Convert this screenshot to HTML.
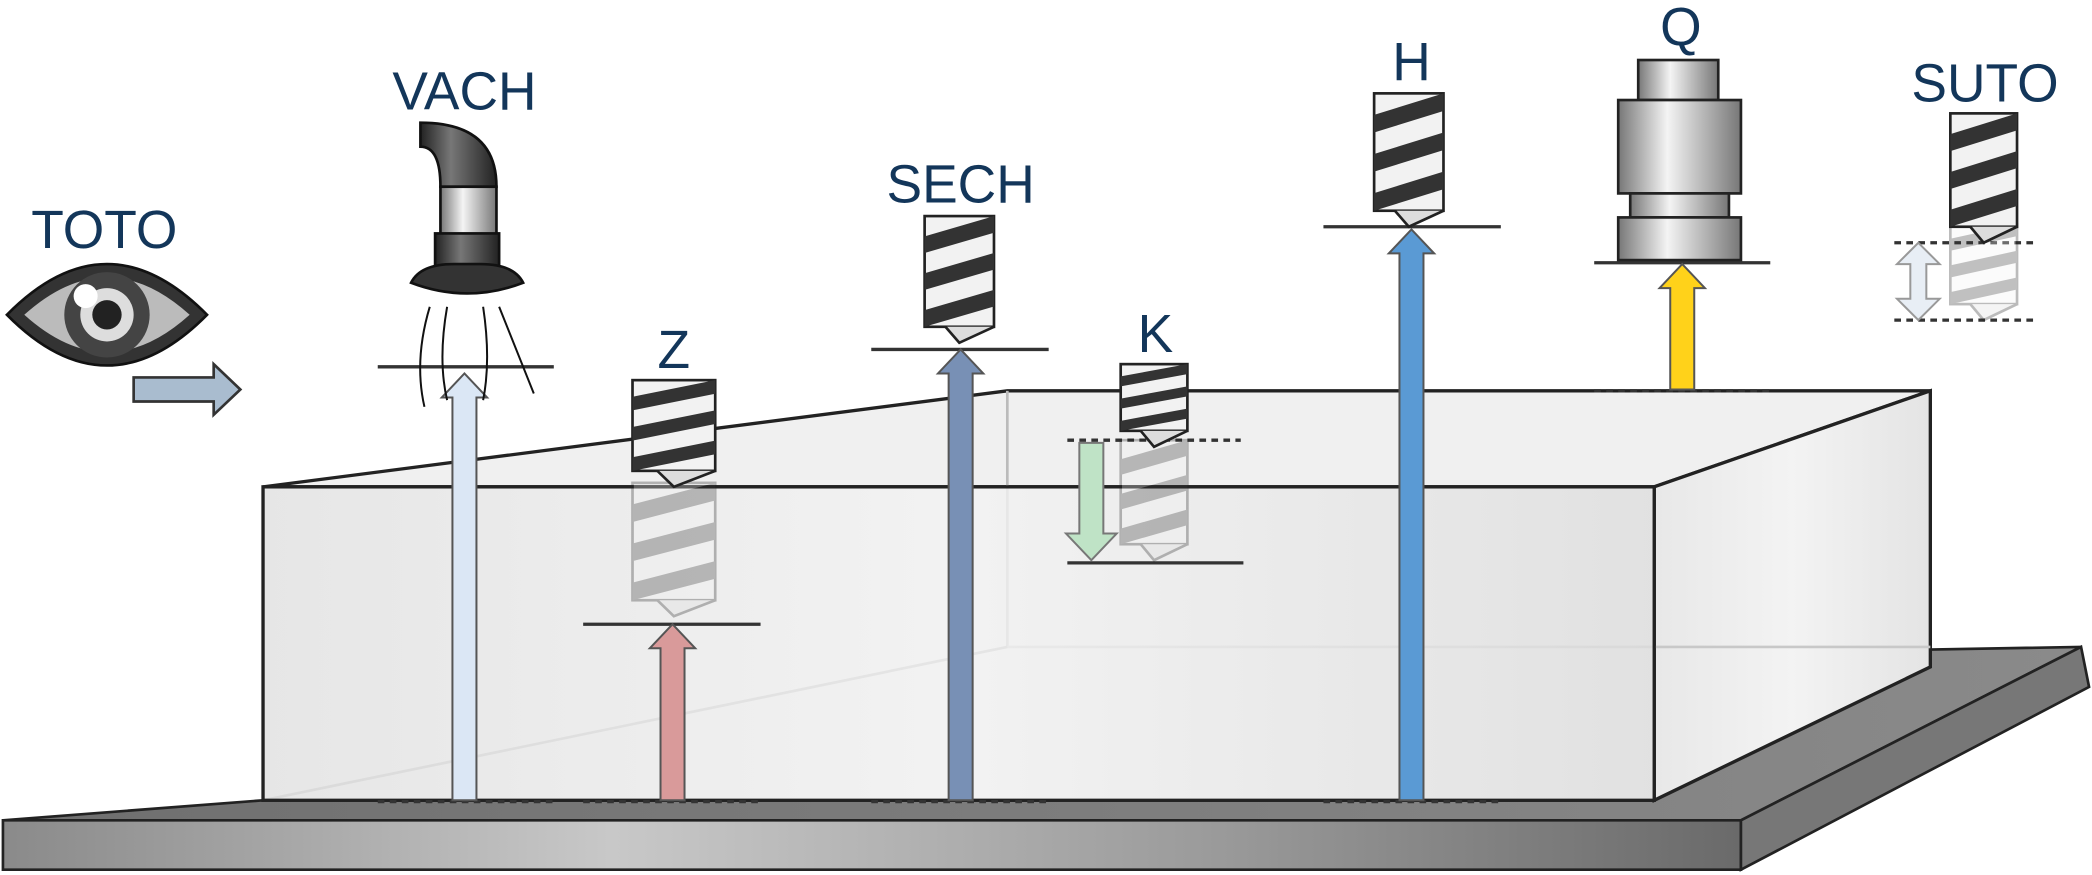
<!DOCTYPE html>
<html><head><meta charset="utf-8"><style>
html,body{margin:0;padding:0;background:#fff;}
svg{display:block;}
text{font-family:"Liberation Sans",sans-serif;font-size:40px;fill:#13365a;text-anchor:middle;}
</style></head><body>
<svg id="s" width="2092" height="875" viewBox="0 0 1568 656" xmlns="http://www.w3.org/2000/svg">
<defs>
<linearGradient id="plate" x1="0" x2="1" y1="0" y2="0"><stop offset="0" stop-color="#8a8a8a"/><stop offset="0.35" stop-color="#c8c8c8"/><stop offset="0.7" stop-color="#9a9a9a"/><stop offset="1" stop-color="#6a6a6a"/></linearGradient>
<linearGradient id="plateTop" x1="0" x2="1"><stop offset="0" stop-color="#6f6f6f"/><stop offset="1" stop-color="#8a8a8a"/></linearGradient>
<linearGradient id="boxF" x1="0" x2="1"><stop offset="0" stop-color="#e2e2e2"/><stop offset="0.5" stop-color="#f0f0f0"/><stop offset="1" stop-color="#dcdcdc"/></linearGradient>
<linearGradient id="boxR" x1="0" x2="1"><stop offset="0" stop-color="#e8e8e8"/><stop offset="0.5" stop-color="#f3f3f3"/><stop offset="1" stop-color="#e4e4e4"/></linearGradient>
<linearGradient id="metal" x1="0" x2="1"><stop offset="0" stop-color="#777"/><stop offset="0.4" stop-color="#f4f4f4"/><stop offset="1" stop-color="#777"/></linearGradient>
<linearGradient id="dark" x1="0" x2="1"><stop offset="0" stop-color="#222"/><stop offset="0.4" stop-color="#777"/><stop offset="1" stop-color="#222"/></linearGradient>
</defs>
<!-- plate -->
<g>
<polygon points="2,615 1305,615 1560,485 1447,487 1447,500 1240,600 197,600" fill="url(#plateTop)" stroke="#222" stroke-width="2"/>
<polygon points="2,615 1305,615 1305,652 2,652" fill="url(#plate)" stroke="#222" stroke-width="2"/>
<polygon points="1305,615 1560,485 1566,515 1305,652" fill="#777" stroke="#222" stroke-width="2"/>
</g>
<!-- box -->
<g>
<polygon points="197,365 1240,365 1447,293 755,293" fill="#f0f0f0" stroke="#222" stroke-width="2.5"/>
<polygon points="1240,365 1447,293 1447,500 1240,600" fill="url(#boxR)" stroke="#222" stroke-width="2.5"/>
<line x1="755" y1="293" x2="755" y2="485" stroke="#bbb" stroke-width="2"/>
<line x1="755" y1="485" x2="1447" y2="485" stroke="#c8c8c8" stroke-width="2"/>
<line x1="755" y1="485" x2="197" y2="600" stroke="#aaa" stroke-width="2"/>
<rect x="197" y="365" width="1043" height="235" fill="url(#boxF)" fill-opacity="0.85" stroke="#222" stroke-width="2.5"/>
</g>
<g id="marks"></g>
<!-- eye -->
<g>
<path d="M5,236 Q80,160 155,236 Q80,312 5,236Z" fill="#333" stroke="#111" stroke-width="2"/>
<path d="M18,236 Q80,180 142,236 Q80,292 18,236Z" fill="#bbb"/>
<circle cx="80" cy="236" r="32" fill="#444"/><circle cx="80" cy="236" r="20" fill="#ddd"/><circle cx="80" cy="236" r="11" fill="#222"/>
<circle cx="64" cy="222" r="9" fill="#fff"/>
<path d="M100,283 L160,283 L160,273 L180,292 L160,311 L160,301 L100,301Z" fill="#a9bccf" stroke="#333" stroke-width="2"/>
</g>
<!-- vacuum -->
<g>
<path d="M315,92 Q372,92 372,140 L330,140 Q330,110 315,110Z" fill="url(#dark)" stroke="#111" stroke-width="2"/>
<rect x="330" y="140" width="42" height="40" fill="url(#metal)" stroke="#111" stroke-width="2"/>
<rect x="326" y="175" width="48" height="25" fill="url(#dark)" stroke="#111" stroke-width="2"/>
<path d="M308,212 Q315,198 340,198 L360,198 Q385,198 392,212 Q350,228 308,212Z" fill="#333" stroke="#111" stroke-width="2"/>
<path d="M322,230 Q310,270 318,305 M335,230 Q328,270 335,300 M362,230 Q368,270 362,300 M374,230 Q390,270 400,295" fill="none" stroke="#111" stroke-width="1.5"/>
</g>
<!-- spindle Q -->
<g>
<rect x="1228" y="45" width="60" height="30" fill="url(#metal)" stroke="#222" stroke-width="2"/>
<rect x="1213" y="75" width="92" height="70" fill="url(#metal)" stroke="#222" stroke-width="2"/>
<rect x="1222" y="145" width="74" height="18" fill="url(#metal)" stroke="#222" stroke-width="2"/>
<rect x="1213" y="163" width="92" height="32" fill="url(#metal)" stroke="#222" stroke-width="2"/>
</g>
<g id="labels"></g>
</svg>
<script>
// arrow data (heights in diagram units)
const arrowNames = ['VACH','Z','SECH','H','Q'];
const arrowX = [348,504,720,1058,1261];
const arrowTop = [280,468,262,172,198];
const arrowBase = [600,600,600,600,292];
const arrowColors = ['#dbe7f5','#d99a9a','#7890b5','#5a9ad4','#ffd21a'];
const labelNames = ['TOTO','VACH','Z','SECH','K','H','Q','SUTO'];
const labelX = [78,348,505,720,866,1058,1260,1488];
const labelY = [186,82,276,152,264,60,34,76];
const NS='http://www.w3.org/2000/svg';
const g=document.getElementById('marks');
function el(t,a,p){const e=document.createElementNS(NS,t);for(const k in a)e.setAttribute(k,a[k]);(p||g).appendChild(e);return e;}
function drill(x,y,w,h,op,name){
 const d=el('g',{opacity:op});
 
 
 el('rect',{x:x,y:y,width:w,height:h-12,fill:'#f2f2f2',stroke:'#222','stroke-width':2},d);
 const n=3,st=(h-12)/n;
 for(let i=0;i<n;i++){const yy=y+i*st;
  el('path',{d:`M${x},${yy+st*0.55} L${x+w},${yy} L${x+w},${yy+st*0.45} L${x},${yy+st}Z`,fill:'#333'},d);}
 el('path',{d:`M${x+w*0.3},${y+h-12} L${x+w*0.5},${y+h} L${x+w},${y+h-12}`,fill:'#ddd',stroke:'#222','stroke-width':2},d);
}
function vArrow(x,top,base,col,name){
 const w=9,hw=17,hh=18;
 const a=el('path',{d:`M${x-w},${base} L${x-w},${top+hh} L${x-hw},${top+hh} L${x},${top} L${x+hw},${top+hh} L${x+w},${top+hh} L${x+w},${base}Z`,fill:col,stroke:'#555','stroke-width':1.5});
 
 
}
const lines=[[283,415,275],[437,570,468],[653,786,262],[992,1125,170],[1195,1327,197],[800,932,422]];
lines.forEach(l=>{const e=el('line',{x1:l[0],x2:l[1],y1:l[2],y2:l[2],stroke:'#333','stroke-width':2.5});
 
 });
[[800,930,330],[1420,1525,182],[1420,1525,240],[283,415,601],[437,570,601],[653,786,601],[992,1125,601],[1195,1327,293]].forEach(l=>{
 const e=el('line',{x1:l[0],x2:l[1],y1:l[2],y2:l[2],stroke:'#333','stroke-width':2.5,'stroke-dasharray':'5,4'});
 
 });
drill(474,362,62,100,0.3,'ghost-drill-z');
drill(474,285,62,80,1,'drill-z');
drill(693,162,52,95,1,'drill-sech');
drill(840,330,50,90,0.3,'ghost-drill-k');
drill(840,273,50,62,1,'drill-k');
drill(1030,70,52,100,1,'drill-h');
drill(1462,168,50,72,0.3,'ghost-drill-suto');
drill(1462,85,50,97,1,'drill-suto');
arrowNames.forEach((n,i)=>vArrow(arrowX[i],arrowTop[i],arrowBase[i],arrowColors[i],'arrow-'+n.toLowerCase()));
const k=el('path',{d:'M809,332 L809,400 L799,400 L818,420 L837,400 L827,400 L827,332Z',fill:'#bfe3c6',stroke:'#777','stroke-width':1.5});


const su=el('path',{d:'M1432,198 L1422,198 L1438,182 L1454,198 L1444,198 L1444,224 L1454,224 L1438,240 L1422,224 L1432,224Z',fill:'#e8eef5',stroke:'#999','stroke-width':1.5});


const lg=document.getElementById('labels');
labelNames.forEach((n,i)=>{const t=el('text',{x:labelX[i],y:labelY[i]},lg);t.textContent=n;
 
 });
</script>
</body></html>
